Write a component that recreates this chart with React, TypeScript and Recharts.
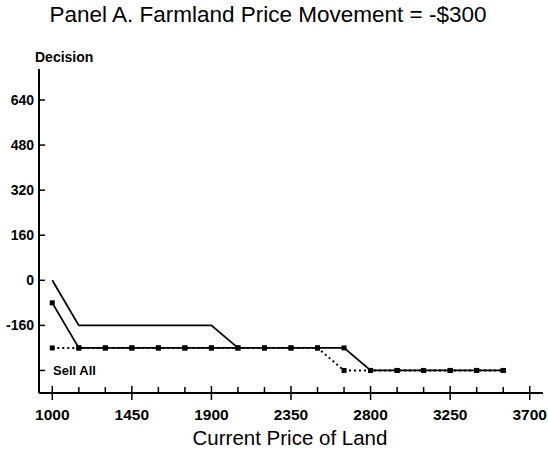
import { Line, LineChart, XAxis, YAxis } from "recharts";

// current price of land ($)
const prices = [
  1000, 1150, 1300, 1450, 1600, 1750, 1900, 2050, 2200, 2350, 2500, 2650,
  2800, 2950, 3100, 3250, 3400, 3550,
];

const upperPath = [
  0, -160, -160, -160, -160, -160, -160, -240, null, null, null, null, null,
  null, null, null, null, null,
];

const decision = [
  -80, -240, -240, -240, -240, -240, -240, -240, -240, -240, -240, -240, -320,
  -320, -320, -320, -320, -320,
];

const dottedPath = [
  -240, -240, -240, -240, -240, -240, -240, -240, -240, -240, -240, -320, -320,
  -320, -320, -320, -320, -320,
];

const xTicks = [
  1000, 1150, 1300, 1450, 1600, 1750, 1900, 2050, 2200, 2350, 2500, 2650, 2800,
  2950, 3100, 3250, 3400, 3550, 3700,
];
const xMajor = [1000, 1450, 1900, 2350, 2800, 3250, 3700];
const yTicks = [-320, -160, 0, 160, 320, 480, 640];
const sellAllLevel = -320;

const data = prices.map((p, i) => ({
  price: p,
  upper: upperPath[i],
  decision: decision[i],
  dotted: dottedPath[i],
}));

const font = "'Liberation Sans', Arial, sans-serif";

function XTick(props: any) {
  const { x, y, payload } = props;
  const major = xMajor.includes(payload.value);
  return (
    <g>
      <line
        x1={x}
        x2={x}
        y1={y - (major ? 7 : 6)}
        y2={major ? y + 7 : y}
        stroke="#000"
        strokeWidth={1.5}
      />
      {major && (
        <text
          x={x}
          y={y + 27}
          textAnchor="middle"
          fontSize={15.5}
          fontWeight="bold"
          fontFamily={font}
          fill="#000"
        >
          {payload.value}
        </text>
      )}
    </g>
  );
}

function YTick(props: any) {
  const { x, y, payload } = props;
  const sell = payload.value === sellAllLevel;
  return (
    <g>
      <line x1={x} x2={x + 6} y1={y} y2={y} stroke="#000" strokeWidth={1.5} />
      <text
        x={sell ? x + 14 : x - 5}
        y={y + 5}
        textAnchor={sell ? "start" : "end"}
        fontSize={sell ? 13 : 14}
        fontWeight="bold"
        fontFamily={font}
        fill="#000"
      >
        {sell ? "Sell All" : payload.value}
      </text>
    </g>
  );
}

function SquareDot(props: any) {
  const { cx, cy, value } = props;
  if (value == null || cx == null || cy == null) return null;
  return <rect x={cx - 2.5} y={cy - 2.5} width={5} height={5} fill="#000" />;
}

export default function App() {
  return (
    <div
      style={{
        position: "absolute",
        left: 0,
        top: 0,
        width: 548,
        height: 451,
        background: "#fff",
        fontFamily: font,
      }}
    >
      <div
        style={{
          position: "absolute",
          top: 2,
          left: 0,
          width: 536,
          textAlign: "center",
          fontSize: 22.5,
          whiteSpace: "nowrap",
        }}
      >
        Panel A. Farmland Price Movement = -$300
      </div>
      <div
        style={{
          position: "absolute",
          top: 49,
          left: 35,
          fontSize: 14,
          fontWeight: "bold",
        }}
      >
        Decision
      </div>
      <div
        style={{
          position: "absolute",
          top: 426,
          left: 0,
          width: 580,
          textAlign: "center",
          fontSize: 20.5,
          whiteSpace: "nowrap",
        }}
      >
        Current Price of Land
      </div>
      <LineChart
        width={548}
        height={451}
        data={data}
        margin={{ top: 69, right: 5, bottom: 0, left: 0 }}
      >
        <XAxis
          dataKey="price"
          type="number"
          domain={[925, 3775]}
          ticks={xTicks}
          interval={0}
          height={58}
          tickSize={0}
          tickMargin={0}
          tickLine={false}
          axisLine={{ stroke: "#000", strokeWidth: 2 }}
          tick={(p: any) => <XTick {...p} />}
        />
        <XAxis
          xAxisId="top"
          dataKey="price"
          type="number"
          domain={[925, 3775]}
          orientation="top"
          height={0}
          tick={false}
          tickLine={false}
          axisLine={{ stroke: "#000", strokeWidth: 2 }}
        />
        <YAxis
          type="number"
          domain={[-400, 750]}
          ticks={yTicks}
          interval={0}
          width={39}
          tickSize={0}
          tickMargin={0}
          tickLine={false}
          axisLine={{ stroke: "#000", strokeWidth: 2 }}
          tick={(p: any) => <YTick {...p} />}
        />
        <YAxis
          yAxisId="right"
          orientation="right"
          type="number"
          domain={[-400, 750]}
          width={0}
          tick={false}
          tickLine={false}
          axisLine={{ stroke: "#000", strokeWidth: 2 }}
        />
        <Line
          dataKey="dotted"
          type="linear"
          stroke="#000"
          strokeWidth={2}
          strokeDasharray="2 3"
          dot={(p: any) => <SquareDot key={"d" + p.index} {...p} />}
          isAnimationActive={false}
        />
        <Line
          dataKey="upper"
          type="linear"
          stroke="#000"
          strokeWidth={1.8}
          dot={false}
          connectNulls={false}
          isAnimationActive={false}
        />
        <Line
          dataKey="decision"
          type="linear"
          stroke="#000"
          strokeWidth={1.8}
          dot={(p: any) => <SquareDot key={"m" + p.index} {...p} />}
          isAnimationActive={false}
        />
      </LineChart>
    </div>
  );
}
